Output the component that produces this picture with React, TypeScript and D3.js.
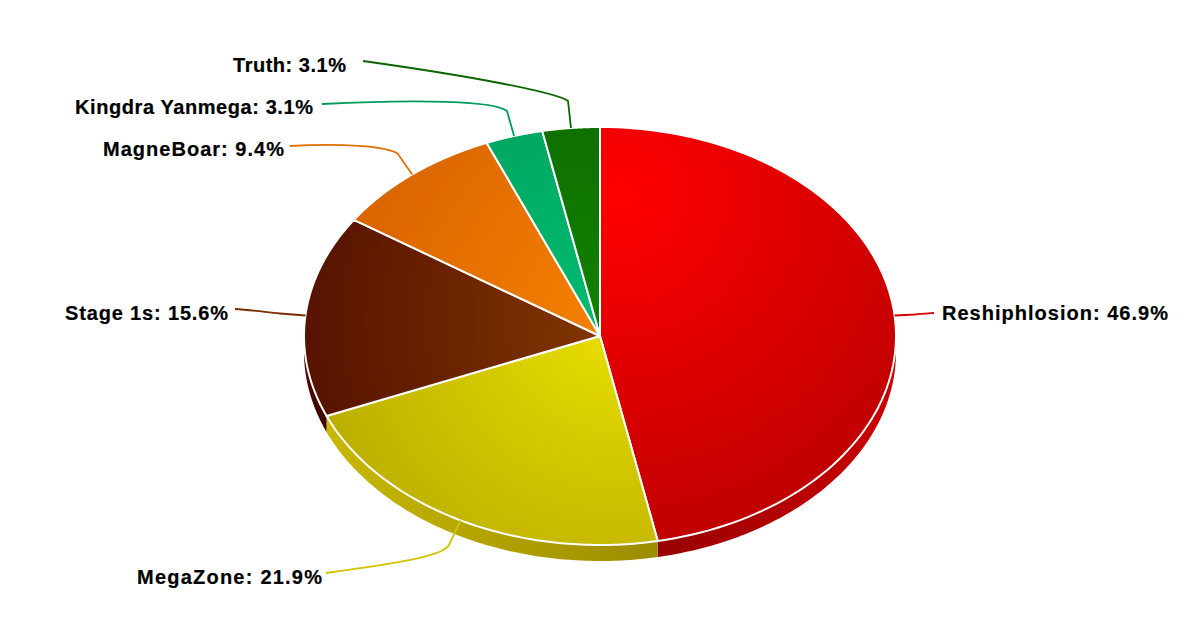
import React from "react";
import * as d3 from "d3";

const categories = ["Reshiphlosion", "MegaZone", "Stage 1s", "MagneBoar", "Kingdra Yanmega", "Truth"];
const shares = [46.875, 21.875, 15.625, 9.375, 3.125, 3.125];
const percentLabels = ["46.9%", "21.9%", "15.6%", "9.4%", "3.1%", "3.1%"];
const lineColors = ["#d40000", "#d2c400", "#7a2c00", "#e07000", "#009a5c", "#0a6400"];
const sideLight = ["#cc0000", "#c8b800", "#4d0a00", "#c05800", "#009050", "#0a5a00"];
const sideDark = ["#980000", "#9c8c00", "#3d0500", "#a04800", "#007040", "#084800"];
const gradStops = [
  ["#ff0000", "#b80000"],
  ["#e8df00", "#bcae00"],
  ["#843800", "#531000"],
  ["#f58200", "#d86200"],
  ["#00b870", "#00a862"],
  ["#127f00", "#0e7000"],
];
// radial gradient: centre x, y, radius
const gradCircles = [
  [622, 195, 390],
  [610, 320, 300],
  [620, 320, 340],
  [620, 320, 300],
  [590, 300, 180],
  [590, 300, 180],
];
// label layout: x, baseline, text width
const labelBoxes = [
  [942, 320, 226],
  [137, 584, 185],
  [65, 320, 163],
  [103, 156, 181],
  [75, 114, 238],
  [233, 72, 113],
];
// connector: elbow x,y ; two curve handles ; end x,y
const connectors = [
  [915, 314.5, 920, 314, 930, 313.3, 934, 313],
  [449, 545, 443, 556, 400, 563, 326, 573],
  [280, 313.5, 265, 312, 250, 310, 235, 309],
  [398, 154, 388, 146, 340, 143, 290, 146],
  [507, 111, 495, 101, 420, 99, 322, 104],
  [568, 101, 555, 92, 470, 76, 363, 61],
];

const W = 1200, H = 638, cx = 600, cy = 336, rx = 296, ry = 209, depth = 16;

const px = (a: number) => cx + rx * Math.sin(a);
const py = (a: number) => cy - ry * Math.cos(a);
const sampled = (a0: number, a1: number) =>
  d3.range(0, 101).map((i) => d3.interpolateNumber(a0, a1)(i / 100));
const line = d3.line<number[]>().x((d) => d[0]).y((d) => d[1]);

export default function App() {
  const arcs = d3.pie<number>().sort(null).value((d) => d)(shares);
  const top = (a0: number, a1: number) =>
    line([[cx, cy], ...sampled(a0, a1).map((a) => [px(a), py(a)])]) + "Z";
  const side = (a0: number, a1: number) => {
    const s = Math.max(a0, Math.PI / 2), e = Math.min(a1, (3 * Math.PI) / 2);
    if (e <= s) return "";
    const t = sampled(s, e);
    return (
      line([...t.map((a) => [px(a), py(a)]), ...[...t].reverse().map((a) => [px(a), py(a) + depth])]) + "Z"
    );
  };
  return (
    <svg width={W} height={H} style={{ position: "absolute", left: 0, top: 0, background: "#fff" }}>
      <defs>
        {arcs.map((_, i) => (
          <radialGradient key={i} id={`g${i}`} gradientUnits="userSpaceOnUse"
            cx={gradCircles[i][0]} cy={gradCircles[i][1]} r={gradCircles[i][2]}>
            <stop offset="0" stopColor={gradStops[i][0]} />
            <stop offset="1" stopColor={gradStops[i][1]} />
          </radialGradient>
        ))}
        {arcs.map((a, i) => {
          const s = Math.max(a.startAngle, Math.PI / 2), e = Math.min(a.endAngle, (3 * Math.PI) / 2);
          const light = i === 0 ? px(s) : px(e), dark = i === 0 ? px(e) : px(s);
          return (
            <linearGradient key={i} id={`s${i}`} gradientUnits="userSpaceOnUse" x1={light} y1={0} x2={dark} y2={0}>
              <stop offset="0" stopColor={sideLight[i]} />
              <stop offset="1" stopColor={sideDark[i]} />
            </linearGradient>
          );
        })}
      </defs>
      {arcs.map((a, i) => (
        <path key={i} d={side(a.startAngle, a.endAngle)} fill={`url(#s${i})`} />
      ))}
      {arcs.map((a, i) => (
        <path key={i} d={top(a.startAngle, a.endAngle)} fill={`url(#g${i})`} stroke="#fff" strokeWidth={2} strokeLinejoin="round" />
      ))}
      {arcs.map((a, i) => {
        const mid = (a.startAngle + a.endAngle) / 2;
        const c = connectors[i];
        const p = d3.path();
        p.moveTo(px(mid), py(mid));
        p.lineTo(c[0], c[1]);
        p.bezierCurveTo(c[2], c[3], c[4], c[5], c[6], c[7]);
        return <path key={i} d={p.toString()} fill="none" stroke={lineColors[i]} strokeWidth={1.8} />;
      })}
      {arcs.map((_, i) => (
        <text key={i} x={labelBoxes[i][0]} y={labelBoxes[i][1]} textLength={labelBoxes[i][2]} lengthAdjust="spacing"
          fontFamily="'Liberation Sans', Arial, sans-serif" fontWeight="bold" fontSize={20} fill="#000"
          stroke="#000" strokeWidth={0.2}>
          {`${categories[i]}: ${percentLabels[i]}`}
        </text>
      ))}
    </svg>
  );
}
